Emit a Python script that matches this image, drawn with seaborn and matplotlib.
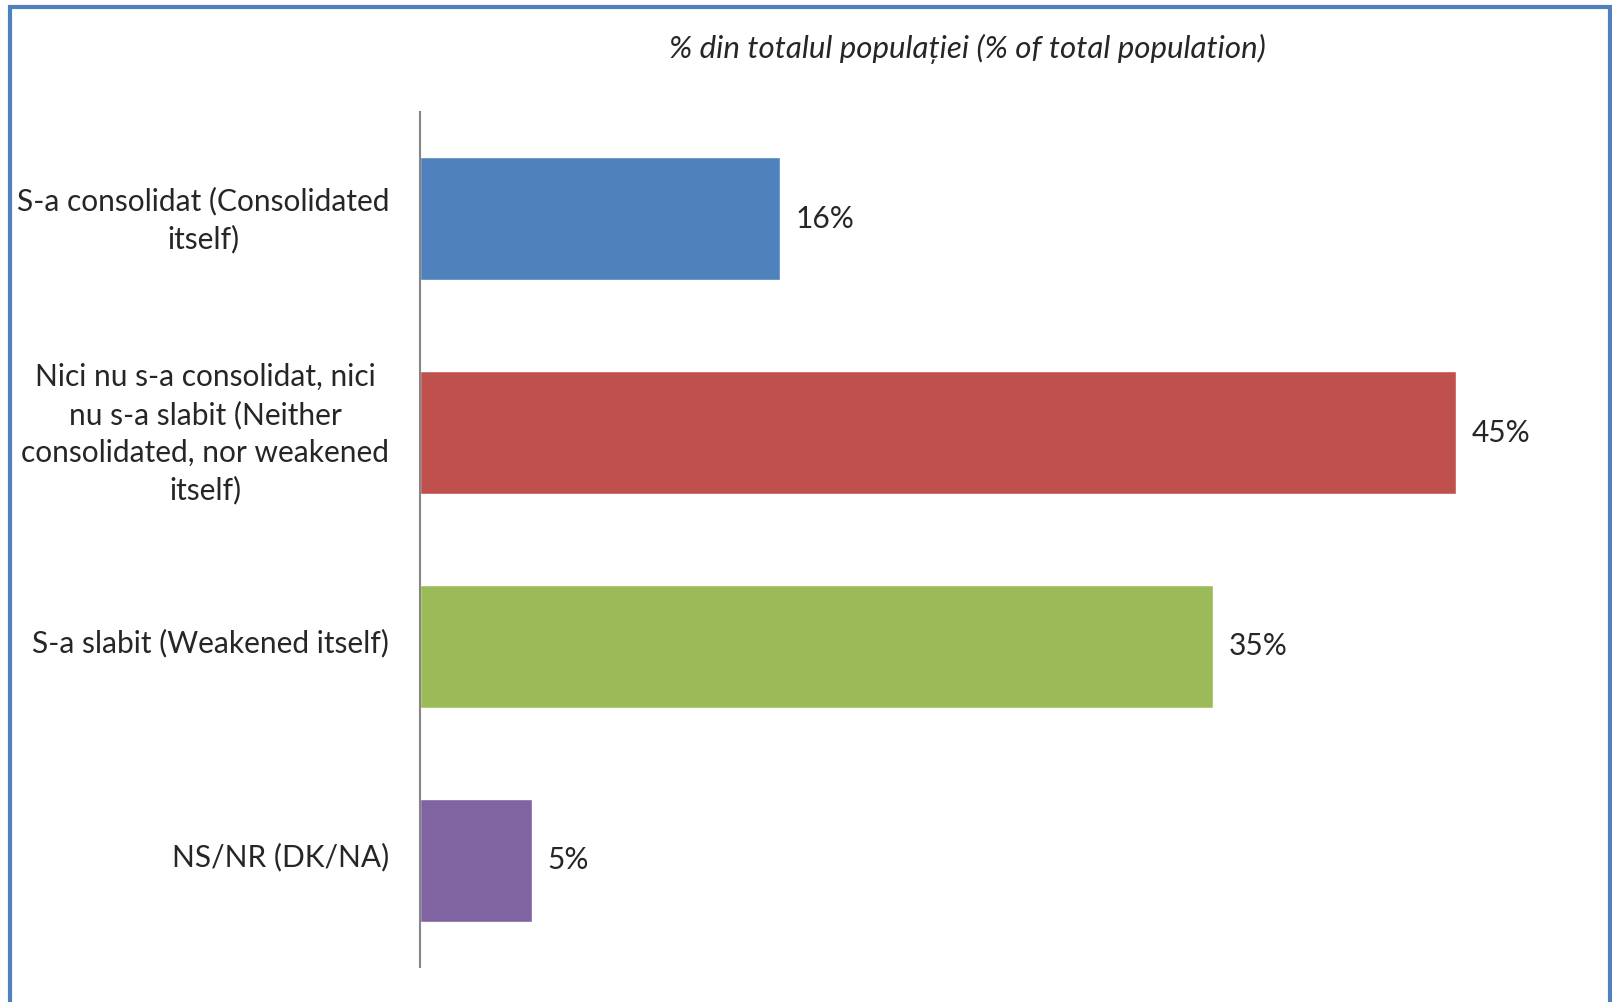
import matplotlib
matplotlib.use('Agg')
import matplotlib.pyplot as plt
import matplotlib.transforms as mtransforms
import seaborn as sns
import pandas as pd
from matplotlib.patches import Rectangle

# data
categories = ['S-a consolidat (Consolidated\nitself)',
              'Nici nu s-a consolidat, nici\nnu s-a slabit (Neither\nconsolidated, nor weakened\nitself)',
              'S-a slabit (Weakened itself)',
              'NS/NR (DK/NA)']
values = [15.7, 45.2, 34.6, 4.9]
colors = ['#4F81BD', '#C0504D', '#9BBB59', '#8064A2']
title = '% din totalul populației (% of total population)'

sns.set_style('white')
plt.rcParams['font.family'] = ['Lato', 'DejaVu Sans']

df = pd.DataFrame({'cat': categories, 'val': values})

fig = plt.figure(figsize=(16.12, 10.02), dpi=100)
ax = fig.add_axes([0.2605, 0.0349, 0.711, 0.8533])

sns.barplot(data=df, x='val', y='cat', hue='cat', palette=colors,
            orient='h', width=0.575, legend=False, ax=ax, saturation=1)

down = mtransforms.ScaledTranslation(0, -4 / 100, fig.dpi_scale_trans)
for c in ax.containers:
    for t in ax.bar_label(c, labels=[f'{v:.0f}%' for v in c.datavalues],
                          padding=11, fontsize=21.5):
        t.set_transform(t.get_transform() + down)

ax.set_xlim(0, 50)
ax.set_xlabel('')
ax.set_ylabel('')
ax.set_xticks([])
for s in ['top', 'right', 'bottom']:
    ax.spines[s].set_visible(False)
ax.spines['left'].set_color('#868686')
ax.spines['left'].set_linewidth(1.5)
ax.tick_params(axis='y', length=0, pad=22, labelsize=21.5)
up = mtransforms.ScaledTranslation(0, 6 / 100, fig.dpi_scale_trans)
for t in ax.get_yticklabels():
    t.set_multialignment('center')
    t.set_linespacing(1.4)
    t.set_transform(t.get_transform() + up)

fig.text(967 / 1612, 1 - 49 / 1002, title, ha='center', va='center',
         fontsize=22.5, style='italic')

# outer frame
fig.patches.append(Rectangle((10 / 1612, -0.05), 1600 / 1612, 1.05 - 7 / 1002,
                             transform=fig.transFigure, fill=False,
                             edgecolor='#4F81BD', linewidth=3))

fig.savefig('out.png', dpi=100)
